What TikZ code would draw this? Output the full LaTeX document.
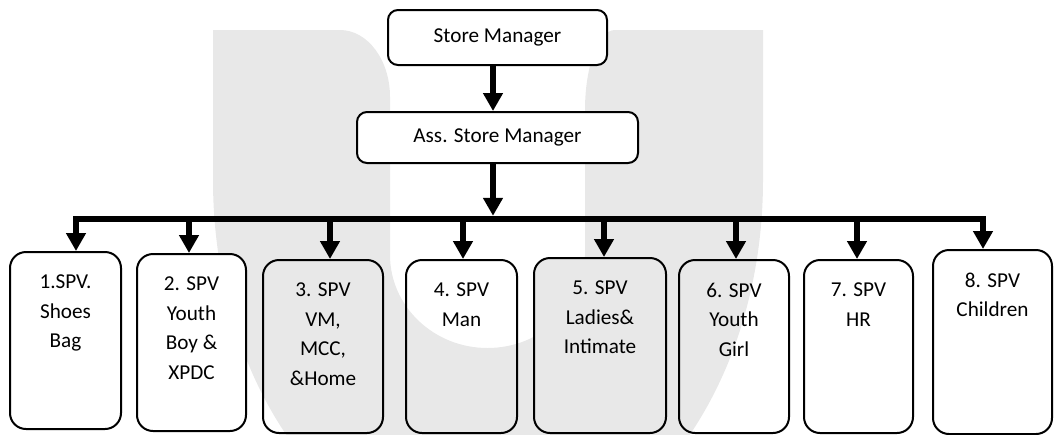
\documentclass[tikz,border=0pt]{standalone}
\usepackage{fontspec}
\setmainfont{Carlito}
\usepackage{xcolor}
\usepackage{tikz}
\usetikzlibrary{positioning}
\usetikzlibrary{arrows.meta}
\definecolor{wmark}{HTML}{E8E8E8}

\begin{document}
\begin{tikzpicture}
                [x=0.5pt, y=-0.5pt,
                 top/.style = {draw, line width=1pt, rounded corners=5pt, fill=white, inner sep=0pt, font=\fontsize{10.6}{14.75}\selectfont},
                 spv/.style = {draw, line width=1pt, rounded corners=8pt, anchor=north west, inner sep=0pt},
                 txt/.style = {align=center, inner sep=0pt, font=\fontsize{10.6}{14.75}\selectfont},
                 arr/.style = {line width=2.7pt, -{Triangle[width=9.5pt,length=9pt]}},
                 bus/.style = {line width=3.3pt, line cap=rect}]
                \useasboundingbox (0,0) rectangle (1054,434);
                \clip (0,0) rectangle (1054,434);
                % Watermark behind the chart
                \fill[wmark] (213,30) -- (340,30) .. controls (367.6,30) and (390,60) .. (390,97)
                    -- (390,255) .. controls (390,306.3) and (433.7,348) .. (487.5,348)
                    .. controls (541.3,348) and (585,306.3) .. (585,255)
                    -- (585,110) .. controls (585,65.8) and (598.4,30) .. (615,30)
                    -- (763,30) -- (763,180) .. controls (763,387) and (639.8,555) .. (488,555)
                    .. controls (336.2,555) and (213,387) .. (213,180) -- cycle;
                % Managers
                \node[top, minimum width=109.5pt, minimum height=27.5pt] (sm) at (497.5,37.5) {Store Manager};
                \node[top, minimum width=140.5pt, minimum height=25.5pt] (asm) at (497.5,137.5) {Ass. Store Manager};
                % Supervisor boxes
                \node[spv, fill=white, minimum width=55.5pt, minimum height=88.5pt] (s1) at (9,251) {};
                \node[spv, fill=white, minimum width=54.5pt, minimum height=88.5pt] (s2) at (136,253) {};
                \node[spv, minimum width=60pt, minimum height=86.5pt] (s3) at (262,259) {};
                \node[spv, minimum width=55.5pt, minimum height=86.5pt] (s4) at (405,259) {};
                \node[spv, fill=wmark, minimum width=66pt, minimum height=87.5pt] (s5) at (533,257) {};
                \node[spv, minimum width=55pt, minimum height=86.5pt] (s6) at (678,259) {};
                \node[spv, fill=white, minimum width=54.5pt, minimum height=86.5pt] (s7) at (803,259) {};
                \node[spv, fill=white, minimum width=59.5pt, minimum height=92pt] (s8) at (932,249) {};
                % Texts in the boxes
                \node[txt, below=11.8pt of s1.north] (l1) {1.SPV.\\Shoes\\Bag};
                \node[txt, below=11.8pt of s2.north] (l2) {2. SPV\\Youth\\Boy \&\\XPDC};
                \node[txt, below=11.8pt of s3.north] (l3) {3. SPV\\VM,\\MCC,\\\&Home};
                \node[txt, below=11.8pt of s4.north] (l4) {4. SPV\\Man};
                \node[txt, below=11.8pt of s5.north] (l5) {5. SPV\\Ladies\&\\Intimate};
                \node[txt, below=11.8pt of s6.north] (l6) {6. SPV\\Youth\\Girl};
                \node[txt, below=11.8pt of s7.north] (l7) {7. SPV\\HR};
                \node[txt, below=11.8pt of s8.north] (l8) {8. SPV\\Children};
                % Points on the bus line
                \coordinate (hub) at (493,219);
                \coordinate (d1) at (76,219);
                \coordinate (d2) at (189,219);
                \coordinate (d3) at (330,219);
                \coordinate (d4) at (463,219);
                \coordinate (d5) at (604,219);
                \coordinate (d6) at (736,219);
                \coordinate (d7) at (857,219);
                \coordinate (d8) at (983,219);
                % Lines
                \draw[arr] (sm.south -| hub) -- (asm.north -| hub);
                \draw[arr, shorten >=1.6pt] (asm.south -| hub) -- (hub);
                \draw[bus] (d1) -- (d8);
                \draw[arr] (d1) -- (d1 |- s1.north);
                \draw[arr] (d2) -- (d2 |- s2.north);
                \draw[arr] (d3) -- (d3 |- s3.north);
                \draw[arr] (d4) -- (d4 |- s4.north);
                \draw[arr] (d5) -- (d5 |- s5.north);
                \draw[arr] (d6) -- (d6 |- s6.north);
                \draw[arr] (d7) -- (d7 |- s7.north);
                \draw[arr] (d8) -- (d8 |- s8.north);
            \end{tikzpicture}
\end{document}
